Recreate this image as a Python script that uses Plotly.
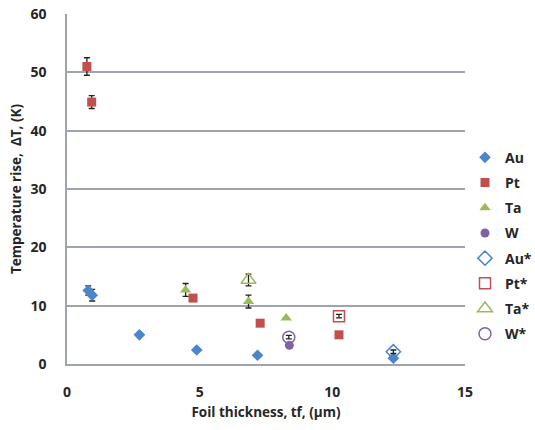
import plotly.graph_objects as go

# Foil thickness (um) and temperature rise (K) per material
au_x = [0.8, 0.95, 2.73, 4.89, 7.18, 12.3]
au_y = [12.6, 11.8, 5.0, 2.4, 1.5, 1.0]
au_err = [0.8, 1.0, 0, 0, 0, 0]

pt_x = [0.75, 0.93, 4.75, 7.28, 10.25]
pt_y = [51.0, 44.9, 11.3, 7.0, 5.0]
pt_err = [1.5, 1.1, 0, 0, 0]

ta_x = [4.47, 6.84, 8.26]
ta_y = [12.7, 10.7, 7.9]
ta_err = [1.1, 1.1, 0]

w_x = [8.38]
w_y = [3.2]
w_err = [0]

aus_x = [12.3]
aus_y = [2.1]
aus_err = [0.3]

pts_x = [10.25]
pts_y = [8.2]
pts_err = [0.3]

tas_x = [6.84]
tas_y = [14.4]
tas_err = [1.0]

ws_x = [8.36]
ws_y = [4.6]
ws_err = [0.3]

BLUE = "#4a86c8"
RED = "#c0504d"
GREEN = "#9bbb59"
PURPLE = "#8064a2"

series = [
    ("Au", au_x, au_y, au_err, "diamond", BLUE, True, 9),
    ("Pt", pt_x, pt_y, pt_err, "square", RED, True, 9),
    ("Ta", ta_x, ta_y, ta_err, "triangle-up", GREEN, True, 10),
    ("W", w_x, w_y, w_err, "circle", PURPLE, True, 9),
    ("Au*", aus_x, aus_y, aus_err, "diamond-open", BLUE, False, 11),
    ("Pt*", pts_x, pts_y, pts_err, "square-open", RED, False, 11),
    ("Ta*", tas_x, tas_y, tas_err, "triangle-up-open", GREEN, False, 13),
    ("W*", ws_x, ws_y, ws_err, "circle-open", PURPLE, False, 12),
]

fig = go.Figure()
for name, xs, ys, errs, sym, col, filled, size in series:
    fig.add_trace(go.Scatter(
        x=xs, y=ys, mode="markers", name=name, legendgroup=name,
        marker=dict(symbol=sym, color=col, size=size,
                    line=dict(color=col, width=1.5 if not filled else 0)),
        error_y=dict(type="data", array=errs, visible=True,
                     color="#222222", thickness=1.3, width=3),
    ))

font_family = "'Open Sans', Lato, sans-serif"
fig.update_layout(
    width=535, height=430,
    margin=dict(l=67, r=70, t=14, b=66, autoexpand=False),
    paper_bgcolor="white", plot_bgcolor="white",
    font=dict(family=font_family, color="#262626"),
    showlegend=True,
    legend=dict(x=1.0, y=0.635, xanchor="left", yanchor="top",
                font=dict(size=14, family=font_family, color="#262626", weight="bold"),
                tracegroupgap=4, itemwidth=30,
                bgcolor="rgba(0,0,0,0)"),
    xaxis=dict(range=[0, 15], tickvals=[0, 5, 10, 15], showgrid=False,
               showline=True, linecolor="#9ea3ad", linewidth=1.5,
               ticks="", zeroline=False, ticklabelstandoff=14,
               tickfont=dict(size=14, weight="bold", color="#262626"),
               title=dict(text="Foil thickness, tf, (µm)", standoff=8,
                          font=dict(size=13.5, weight="bold", color="#262626"))),
    yaxis=dict(range=[0, 60], tickvals=[0, 10, 20, 30, 40, 50, 60],
               showgrid=True, gridcolor="#9ea3ad", gridwidth=1.5,
               showline=True, linecolor="#9ea3ad", linewidth=1.5,
               ticks="", zeroline=False, ticklabelstandoff=16,
               tickfont=dict(size=14, weight="bold", color="#262626"),
               title=dict(text="Temperature rise,  ΔT, (K)", standoff=6,
                          font=dict(size=13.5, weight="bold", color="#262626"))),
)

fig.write_html("out.html")
